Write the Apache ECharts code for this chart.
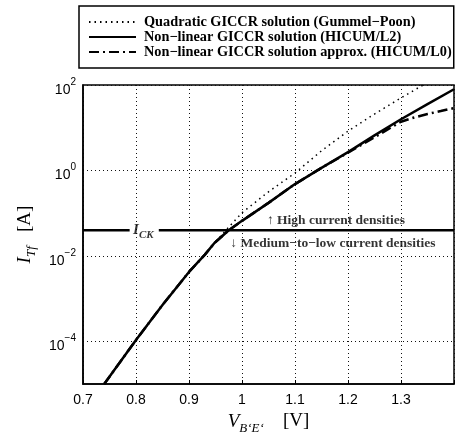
<!DOCTYPE html>
<html>
<head>
<meta charset="utf-8">
<script src="https://cdn.jsdelivr.net/npm/echarts@6/dist/echarts.min.js"></script>
<style>
  html, body { margin: 0; padding: 0; background: #fff; }
  #chart { width: 460px; height: 440px; }
</style>
</head>
<body>
<div id="chart"></div>
<script>
// Transfer current I_Tf [A] versus internal base-emitter voltage V_B'E' [V]

// Quadratic GICCR solution (Gummel-Poon)
const vbeGP = [0.74, 0.80, 0.85, 0.90, 0.93, 0.948, 0.975, 1.00, 1.05, 1.10, 1.15, 1.20, 1.25, 1.30, 1.35];
const iGP   = [1.0e-5, 1.07e-4, 7.1e-4, 4.2e-3, 1.07e-2, 2.0e-2, 4.7e-2, 1.02e-1, 3.16e-1, 0.87, 2.88, 8.3, 20.9, 50, 115];

// Non-linear GICCR solution (HICUM/L2)
const vbeL2 = [0.74, 0.80, 0.85, 0.90, 0.93, 0.948, 0.975, 1.00, 1.05, 1.10, 1.15, 1.20, 1.25, 1.30, 1.35, 1.40];
const iL2   = [1.0e-5, 1.07e-4, 7.1e-4, 4.2e-3, 1.07e-2, 2.0e-2, 3.98e-2, 6.6e-2, 1.74e-1, 0.479, 1.15, 2.69, 6.6, 15.8, 35.5, 79.4];

// Non-linear GICCR solution approx. (HICUM/L0)
const vbeL0 = [0.74, 0.80, 0.85, 0.90, 0.93, 0.948, 0.975, 1.00, 1.05, 1.10, 1.15, 1.20, 1.25, 1.30, 1.325, 1.35, 1.375, 1.40];
const iL0   = [1.0e-5, 1.07e-4, 7.1e-4, 4.2e-3, 1.07e-2, 2.0e-2, 3.98e-2, 6.6e-2, 1.74e-1, 0.479, 1.15, 2.6, 6.0, 13.8, 17.4, 20.9, 24.5, 28.8];

// Critical current I_CK
const iCK = 0.04;

const seriesNames = [
  'Quadratic GICCR solution (Gummel\u2212Poon)',
  'Non\u2212linear GICCR solution (HICUM/L2)',
  'Non\u2212linear GICCR solution approx. (HICUM/L0)'
];
const highLabel = '\u2191 High current densities';
const lowLabel = '\u2193 Medium\u2212to\u2212low current densities';

const zip = (xs, ys) => xs.map((x, i) => [x, ys[i]]);

const serif = 'Liberation Serif';
const sans = 'Liberation Sans';
const clear = 'rgba(0,0,0,0)';

const chart = echarts.init(document.getElementById('chart'), null, { renderer: 'canvas' });

chart.setOption({
  animation: false,
  backgroundColor: '#fff',
  grid: { left: 83, right: 6, top: 85, bottom: 51, show: true, borderColor: '#000', borderWidth: 1.5 },
  legend: {
    data: seriesNames,
    orient: 'vertical',
    left: 79,
    top: 6,
    padding: [9, 2, 9, 9],
    itemGap: 1,
    itemWidth: 47,
    itemHeight: 14,
    backgroundColor: '#fff',
    borderColor: '#000',
    borderWidth: 1.5,
    selectedMode: false,
    // line samples only, no marker on top of them
    itemStyle: { color: clear, borderColor: clear, borderWidth: 0 },
    textStyle: { fontFamily: serif, fontWeight: 'bold', fontSize: 14.3, color: '#000', padding: [0, 0, 0, 3] }
  },
  xAxis: {
    type: 'value',
    min: 0.7,
    max: 1.4,
    interval: 0.1,
    axisLine: { lineStyle: { color: '#000', width: 1.5 } },
    axisTick: { inside: true, length: 4, lineStyle: { color: '#000' } },
    axisLabel: {
      color: '#000', fontFamily: sans, fontSize: 14, margin: 9,
      formatter: v => (v > 1.35 ? '' : String(Math.round(v * 10) / 10))
    },
    splitLine: { show: true, lineStyle: { color: '#111', width: 1, type: [1, 3] } },
    name: '{v|V}{sub|B\u2018E\u2018}{u|    [V]}',
    nameLocation: 'middle',
    nameGap: 28,
    nameTextStyle: {
      rich: {
        v: { fontFamily: serif, fontStyle: 'italic', fontSize: 19, lineHeight: 21, verticalAlign: 'top', color: '#000' },
        sub: { fontFamily: serif, fontStyle: 'italic', fontSize: 13, lineHeight: 15, verticalAlign: 'top', padding: [10, 0, 0, 0], color: '#000' },
        u: { fontFamily: serif, fontSize: 19, lineHeight: 21, verticalAlign: 'top', color: '#000' }
      }
    }
  },
  yAxis: {
    type: 'log',
    logBase: 10,
    min: 1e-5,
    max: 1e2,
    axisLine: { show: true, lineStyle: { color: '#000', width: 1.5 } },
    axisTick: { show: false },
    axisLabel: {
      margin: 7,
      formatter: v => {
        const e = Math.round(Math.log10(v));
        if (e % 2 !== 0) return '';
        return '{b|10}{s|' + (e < 0 ? '\u2212' + (-e) : e) + '}';
      },
      rich: {
        b: { fontFamily: sans, fontSize: 14, color: '#000', lineHeight: 16, verticalAlign: 'top', padding: [6, 0, 0, 0] },
        s: { fontFamily: sans, fontSize: 10, color: '#000', lineHeight: 12, verticalAlign: 'top' }
      }
    },
    splitLine: { show: true, lineStyle: { color: [clear, '#111'], width: 1, type: [1, 3] } },
    name: '{i|I}{sub|Tf}{u|   [A]}',
    nameLocation: 'middle',
    nameRotate: 90,
    nameGap: 44,
    nameTextStyle: {
      rich: {
        i: { fontFamily: serif, fontStyle: 'italic', fontSize: 19, lineHeight: 21, verticalAlign: 'top', color: '#000' },
        sub: { fontFamily: serif, fontStyle: 'italic', fontSize: 13, lineHeight: 15, verticalAlign: 'top', padding: [10, 0, 0, 0], color: '#000' },
        u: { fontFamily: serif, fontSize: 19, lineHeight: 21, verticalAlign: 'top', color: '#000' }
      }
    }
  },
  series: [
    {
      name: seriesNames[1], type: 'line', symbol: 'none', z: 3,
      lineStyle: { color: '#000', width: 2.5 },
      itemStyle: { color: '#000' },
      data: zip(vbeL2, iL2)
    },
    {
      name: seriesNames[2], type: 'line', symbol: 'none', z: 3,
      lineStyle: { color: '#000', width: 2.5, type: [10, 4, 2, 4] },
      itemStyle: { color: '#000' },
      data: zip(vbeL0, iL0)
    },
    {
      name: seriesNames[0], type: 'line', symbol: 'none', z: 4,
      lineStyle: { color: '#000', width: 1.5, type: [1.5, 4] },
      itemStyle: { color: '#000' },
      data: zip(vbeGP, iGP)
    },
    {
      name: 'ICK left', type: 'line', symbol: 'none', silent: true, z: 2,
      lineStyle: { color: '#000', width: 2.5 },
      data: [[0.7, iCK], [0.788, iCK]]
    },
    {
      name: 'ICK right', type: 'line', symbol: 'none', silent: true, z: 2,
      lineStyle: { color: '#000', width: 2.5 },
      data: [[0.843, iCK], [1.4, iCK]]
    },
    {
      name: 'annotations', type: 'scatter', symbolSize: 0, silent: true, z: 5,
      data: [
        { value: [0.7945, iCK], label: { formatter: '{i|I}{sub|CK}' } },
        { value: [1.047, 0.0673], label: { formatter: '{t|' + highLabel + '}' } },
        { value: [0.978, 0.0192], label: { formatter: '{t|' + lowLabel + '}' } }
      ],
      label: {
        show: true, position: 'right', distance: 0,
        rich: {
          i: { fontFamily: serif, fontStyle: 'italic', fontWeight: 'bold', fontSize: 15, lineHeight: 15, verticalAlign: 'top', color: '#000' },
          sub: { fontFamily: serif, fontStyle: 'italic', fontWeight: 'bold', fontSize: 11, lineHeight: 11, verticalAlign: 'top', padding: [7, 0, 0, 0], color: '#000' },
          t: { fontFamily: serif, fontWeight: 'bold', fontSize: 13.5, color: '#000' }
        }
      }
    }
  ]
});
</script>
</body>
</html>
